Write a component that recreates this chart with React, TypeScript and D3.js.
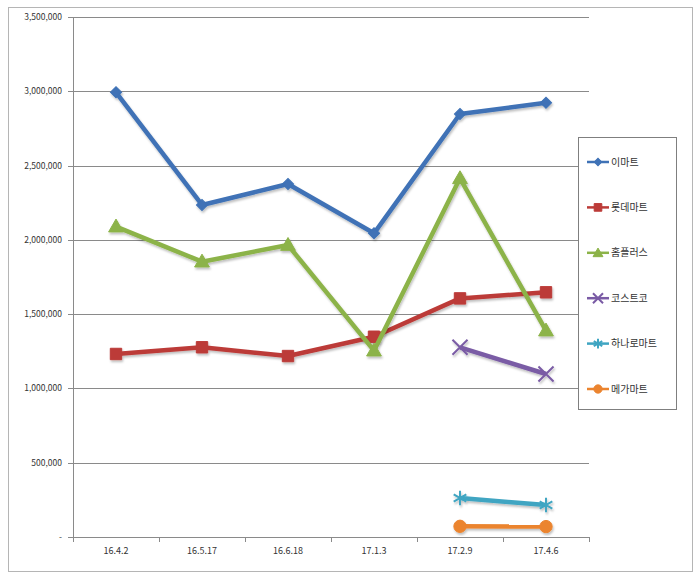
import React from 'react';
import * as d3 from 'd3';

const dates = ['16.4.2', '16.5.17', '16.6.18', '17.1.3', '17.2.9', '17.4.6'];
const yTicks = [0, 500000, 1000000, 1500000, 2000000, 2500000, 3000000, 3500000];

const emart = [2993000, 2235000, 2376000, 2044000, 2847000, 2923000];
const lotte = [1232000, 1277000, 1218000, 1348000, 1606000, 1647000];
const homeplus = [2089000, 1853000, 1965000, 1254000, 2414000, 1389000];
const costco = [null, null, null, null, 1277000, 1097000];
const hanaro = [null, null, null, null, 262000, 215000];
const mega = [null, null, null, null, 72000, 70000];

const series = [
  { name: '이마트', values: emart, color: '#3F72B6', marker: 'diamond' },
  { name: '롯데마트', values: lotte, color: '#BC3B38', marker: 'square' },
  { name: '홈플러스', values: homeplus, color: '#8CB348', marker: 'triangle' },
  { name: '코스트코', values: costco, color: '#7A5BA5', marker: 'times' },
  { name: '하나로마트', values: hanaro, color: '#3FA5C2', marker: 'asterisk' },
  { name: '메가마트', values: mega, color: '#EB842F', marker: 'circle' },
];

const FONT = '"Noto Sans CJK KR", "Noto Sans", sans-serif';

function markerPath(type: string, scale = 1) {
  const s = d3.symbol();
  if (type === 'diamond') return s.type(d3.symbolSquare).size(62 * scale)();
  if (type === 'square') return s.type(d3.symbolSquare).size(130 * scale)();
  if (type === 'triangle') return s.type(d3.symbolTriangle).size(95 * scale)();
  if (type === 'times') return s.type(d3.symbolTimes).size(150 * scale)();
  if (type === 'asterisk') return s.type(d3.symbolAsterisk).size(150 * scale)();
  return s.type(d3.symbolCircle).size(120 * scale)();
}

function Marker({ type, x, y, color, scale = 1 }: any) {
  const stroked = type === 'times' || type === 'asterisk';
  const rot = type === 'diamond' ? ' rotate(45)' : '';
  const ty = type === 'triangle' ? y + 1 : y;
  return (
    <path
      d={markerPath(type, scale) as string}
      transform={`translate(${x},${ty})${rot}`}
      fill={stroked ? 'none' : color}
      stroke={color}
      strokeWidth={stroked ? 2 : 1}
    />
  );
}

export default function App() {
  const left = 73;
  const top = 17;
  const plotW = 516;
  const plotH = 520;

  const x = d3.scaleBand().domain(dates).range([left, left + plotW]);
  const y = d3.scaleLinear().domain([0, 3500000]).range([top + plotH, top]);
  const cx = (d: string) => (x(d) as number) + x.bandwidth() / 2;

  const line = d3
    .line<any>()
    .defined((d) => d.v != null)
    .x((d) => cx(d.date))
    .y((d) => y(d.v));

  const fmt = d3.format(',');
  const legendX = 578;
  const legendY = 137;
  const legendStep = 45.4;

  return (
    <div style={{ position: 'absolute', left: 0, top: 0 }}>
      <svg width={700} height={577} style={{ display: 'block', fontFamily: FONT }}>
        <defs>
          <filter id="shadow" x="-10%" y="-10%" width="120%" height="130%">
            <feDropShadow dx="1" dy="2" stdDeviation="1.2" floodColor="#000" floodOpacity="0.25" />
          </filter>
        </defs>
        <rect x={0} y={0} width={700} height={577} fill="#fff" />
        <rect x={8.5} y={7.5} width={684} height={564} fill="none" stroke="#b5b5b5" strokeWidth={1} />

        {/* gridlines and y ticks */}
        {yTicks.map((t) => (
          <g key={t}>
            {t > 0 && (
              <line x1={left} x2={left + plotW} y1={Math.round(y(t)) + 0.5} y2={Math.round(y(t)) + 0.5} stroke="#8a8a8a" />
            )}
            <line x1={left - 5} x2={left} y1={Math.round(y(t)) + 0.5} y2={Math.round(y(t)) + 0.5} stroke="#8a8a8a" />
            <text
              x={left - 11}
              y={y(t)}
              dy="0.35em"
              textAnchor="end"
              fontSize={8.5}
              fill="#333"
            >
              {t === 0 ? '-' : fmt(t)}
            </text>
          </g>
        ))}

        {/* axes */}
        <line x1={left + 0.5} x2={left + 0.5} y1={top} y2={top + plotH} stroke="#8a8a8a" />
        <line x1={left} x2={left + plotW} y1={top + plotH + 0.5} y2={top + plotH + 0.5} stroke="#8a8a8a" />
        {d3.range(dates.length + 1).map((i) => {
          const xx = Math.round(left + i * x.bandwidth()) + 0.5;
          return <line key={i} x1={xx} x2={xx} y1={top + plotH} y2={top + plotH + 5} stroke="#8a8a8a" />;
        })}
        {dates.map((d) => (
          <text key={d} x={cx(d)} y={554} textAnchor="middle" fontSize={9} fill="#333">
            {d}
          </text>
        ))}

        {/* series */}
        {series.map((s) => {
          const pts = s.values.map((v, i) => ({ date: dates[i], v }));
          return (
            <g key={s.name} filter="url(#shadow)">
              <path d={line(pts) as string} fill="none" stroke={s.color} strokeWidth={4.5} strokeLinejoin="round" />
              {pts
                .filter((p) => p.v != null)
                .map((p) => (
                  <Marker key={p.date} type={s.marker} x={cx(p.date)} y={y(p.v as number)} color={s.color} />
                ))}
            </g>
          );
        })}

        {/* legend */}
        <rect x={legendX + 0.5} y={legendY + 0.5} width={98} height={272} fill="#fff" stroke="#7f7f7f" />
        {series.map((s, i) => {
          const ly = legendY + 25 + i * legendStep;
          return (
            <g key={s.name}>
              <line x1={legendX + 9} x2={legendX + 31} y1={ly} y2={ly} stroke={s.color} strokeWidth={2.5} />
              <Marker type={s.marker} x={legendX + 20} y={ly} color={s.color} scale={0.45} />
              <text x={legendX + 33} y={ly} dy="0.35em" fontSize={10} fill="#333">
                {s.name}
              </text>
            </g>
          );
        })}
      </svg>
    </div>
  );
}
